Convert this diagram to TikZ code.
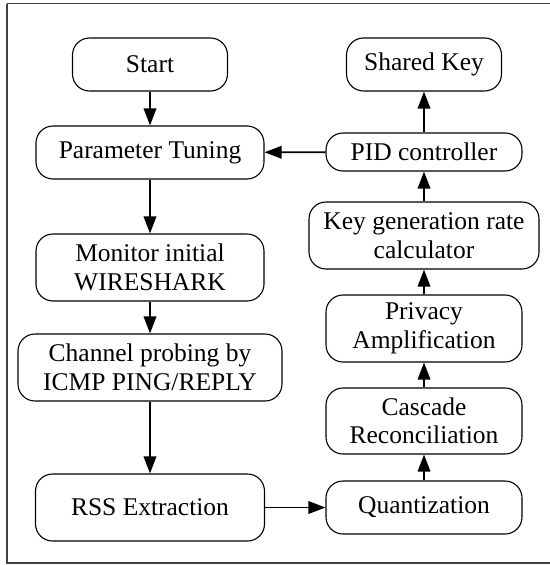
\documentclass[tikz,border=0pt]{standalone}
\usepackage{fontspec}
\setmainfont{Liberation Serif}
\usetikzlibrary{arrows.meta}

\begin{document}
\begin{tikzpicture}[x=1pt, y=-1pt,
  every node/.style={font=\fontsize{25.5}{28.5}\selectfont},
  stage/.style={draw, line width=1.1pt, rounded corners=17pt, align=center,
    inner sep=0pt, fill=white},
  flow/.style={draw, line width=1.8pt, -{Triangle[length=17pt, width=12.5pt]}}]

  % canvas and outer frame
  \useasboundingbox (0,0) rectangle (549,565);
  \draw[line width=1.4pt, black!75] (7,3.5) -- (7,563) -- (560,563)
    (7,3.5) -- (560,3.5);

  % left column
  \node[stage, minimum width=155pt, minimum height=53pt] (start)   at (150,64.5)  {Start};
  \node[stage, minimum width=228pt, minimum height=53pt] (tune)    at (150,152.5) {Parameter Tuning};
  \node[stage, minimum width=228pt, minimum height=67pt] (monitor) at (150,267.5) {Monitor initial\\WIRESHARK};
  \node[stage, minimum width=264pt, minimum height=67pt] (channel) at (150,367.5) {Channel probing by\\ICMP PING/REPLY};
  \node[stage, minimum width=229pt, minimum height=67pt] (rss)     at (150,507.5) {RSS Extraction};

  % right column
  \node[stage, minimum width=196pt, minimum height=53pt] (quant)   at (424,507.5) {Quantization};
  \node[stage, minimum width=196pt, minimum height=66pt] (cascade) at (424,421)   {Cascade\\Reconciliation};
  \node[stage, minimum width=196pt, minimum height=67pt] (privacy) at (424,328.5) {Privacy\\Amplification};
  \node[stage, minimum width=230pt, minimum height=67pt] (keygen)  at (424,235.5) {Key generation rate\\calculator};
  \node[stage, minimum width=196pt, minimum height=38pt] (pid)     at (424,152)   {PID controller};
  \node[stage, minimum width=155pt, minimum height=53pt] (shared)  at (424,64.5)  {Shared Key};

  % connectors
  \draw[flow] (start) -- (tune);
  \draw[flow] (tune) -- (monitor);
  \draw[flow] (monitor) -- (channel);
  \draw[flow] (channel) -- (rss);
  \draw[flow] (rss) -- (quant);
  \draw[flow] (quant) -- (cascade);
  \draw[flow] (cascade) -- (privacy);
  \draw[flow] (privacy) -- (keygen);
  \draw[flow] (keygen) -- (pid);
  \draw[flow] (pid) -- (shared);
  \draw[flow] (pid) -- (tune);
\end{tikzpicture}
\end{document}
